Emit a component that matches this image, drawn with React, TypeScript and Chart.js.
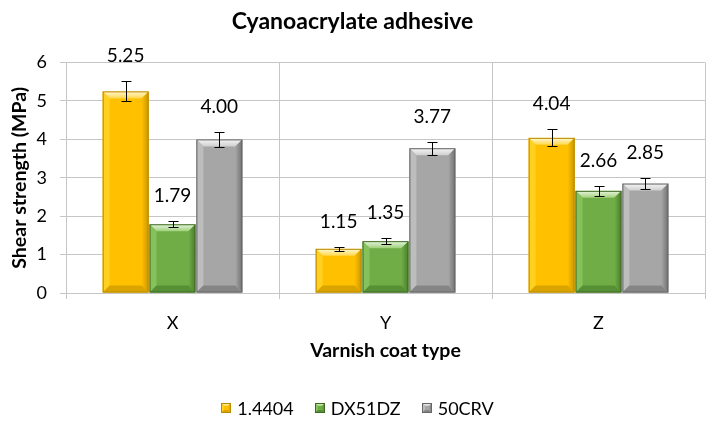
import React, { useEffect, useRef } from 'react';
import { Chart, registerables } from 'chart.js';

Chart.register(...registerables);

const chartTitle = 'Cyanoacrylate adhesive';
const xTitle = 'Varnish coat type';
const yTitle = 'Shear strength (MPa)';
const categories = ['X', 'Y', 'Z'];
const seriesNames = ['1.4404', 'DX51DZ', '50CRV'];
const values1 = [5.25, 1.15, 4.04];
const values2 = [1.79, 1.35, 2.66];
const values3 = [4.0, 3.77, 2.85];
const errors1 = [0.26, 0.06, 0.22];
const errors2 = [0.08, 0.07, 0.13];
const errors3 = [0.2, 0.17, 0.14];
const yMin = 0;
const yMax = 6;
const yStep = 1;

const seriesValues = [values1, values2, values3];
const seriesErrors = [errors1, errors2, errors3];

const FONT = 'Lato, "Open Sans", sans-serif';

const palettes = [
  { face: '#FFC000', hi: '#FFF8D8', top: '#FFD84A', left: '#FFD020', right: '#C99700', bottom: '#D9A400', line: '#B88A00' },
  { face: '#70AD47', hi: '#EAF6E0', top: '#9FD07A', left: '#86C25C', right: '#4A7D2C', bottom: '#578F35', line: '#3F6B25' },
  { face: '#A6A6A6', hi: '#F6F6F6', top: '#CFCFCF', left: '#BDBDBD', right: '#707070', bottom: '#858585', line: '#666666' },
];

function drawBevel(ctx: CanvasRenderingContext2D, left: number, top: number, right: number, bottom: number, p: any, sMax: number) {
  const w = right - left;
  const h = bottom - top;
  if (w <= 0 || h <= 0) return;
  const s = Math.min(sMax, h / 2, w / 2);
  ctx.save();
  ctx.fillStyle = p.face;
  ctx.fillRect(left, top, w, h);
  let g = ctx.createLinearGradient(0, top, 0, top + s);
  g.addColorStop(0, p.hi);
  g.addColorStop(1, p.top);
  ctx.fillStyle = g;
  ctx.beginPath();
  ctx.moveTo(left, top); ctx.lineTo(right, top); ctx.lineTo(right - s, top + s); ctx.lineTo(left + s, top + s); ctx.closePath();
  ctx.fill();
  ctx.fillStyle = p.left;
  ctx.beginPath();
  ctx.moveTo(left, top); ctx.lineTo(left + s, top + s); ctx.lineTo(left + s, bottom - s); ctx.lineTo(left, bottom); ctx.closePath();
  ctx.fill();
  g = ctx.createLinearGradient(right - s, 0, right, 0);
  g.addColorStop(0, p.face);
  g.addColorStop(1, p.right);
  ctx.fillStyle = g;
  ctx.beginPath();
  ctx.moveTo(right, top); ctx.lineTo(right, bottom); ctx.lineTo(right - s, bottom - s); ctx.lineTo(right - s, top + s); ctx.closePath();
  ctx.fill();
  ctx.fillStyle = p.bottom;
  ctx.beginPath();
  ctx.moveTo(left, bottom); ctx.lineTo(left + s, bottom - s); ctx.lineTo(right - s, bottom - s); ctx.lineTo(right, bottom); ctx.closePath();
  ctx.fill();
  ctx.strokeStyle = p.line;
  ctx.lineWidth = 1;
  ctx.strokeRect(left + 0.5, top + 0.5, w - 1, h - 1);
  ctx.restore();
}

const bevelPlugin = {
  id: 'bevelBars',
  afterDatasetsDraw(chart: any) {
    const ctx = chart.ctx;
    const yScale = chart.scales.y;
    chart.data.datasets.forEach((ds: any, di: number) => {
      const meta = chart.getDatasetMeta(di);
      meta.data.forEach((el: any, i: number) => {
        const { x, y, base, width } = el.getProps(['x', 'y', 'base', 'width'], true);
        drawBevel(ctx, x - width / 2, y, x + width / 2, base, palettes[di], 7);
        const v = seriesValues[di][i];
        const e = seriesErrors[di][i];
        const yt = Math.round(yScale.getPixelForValue(v + e)) + 0.5;
        const yb = Math.round(yScale.getPixelForValue(v - e)) + 0.5;
        const cx = Math.round(x) + 0.5;
        ctx.save();
        ctx.strokeStyle = '#000';
        ctx.lineWidth = 1;
        ctx.beginPath();
        ctx.moveTo(cx, yt); ctx.lineTo(cx, yb);
        ctx.moveTo(cx - 5, yt); ctx.lineTo(cx + 5, yt);
        ctx.moveTo(cx - 5, yb); ctx.lineTo(cx + 5, yb);
        ctx.stroke();
        ctx.fillStyle = '#000';
        ctx.font = `19px ${FONT}`;
        ctx.textAlign = 'center';
        ctx.textBaseline = 'middle';
        ctx.fillText(v.toFixed(2), x, yt - 26);
        ctx.restore();
      });
    });
  },
  afterDraw(chart: any) {
    const ctx = chart.ctx;
    ctx.save();
    ctx.font = `18px ${FONT}`;
    const box = 10, gap = 6, spacing = 21;
    const items = chart.data.datasets.map((d: any, i: number) => ({ label: d.label, w: ctx.measureText(d.label).width, p: palettes[i] }));
    const total = items.reduce((a: number, it: any) => a + box + gap + it.w, 0) + spacing * (items.length - 1);
    let x = (chart.width - total) / 2 - 2;
    const cy = 408;
    items.forEach((it: any) => {
      drawBevel(ctx, Math.round(x), cy - box / 2, Math.round(x) + box, cy + box / 2, it.p, 3);
      ctx.fillStyle = '#000';
      ctx.textAlign = 'left';
      ctx.textBaseline = 'middle';
      ctx.fillText(it.label, x + box + gap, cy + 1);
      x += box + gap + it.w + spacing;
    });
    ctx.restore();
  },
};

export default function App() {
  const ref = useRef<HTMLCanvasElement>(null);
  useEffect(() => {
    if (!ref.current) return;
    const gridColor = '#C6C6C6';
    const chart = new Chart(ref.current, {
      type: 'bar',
      data: {
        labels: categories,
        datasets: seriesNames.map((name, i) => ({
          label: name,
          data: seriesValues[i],
          backgroundColor: 'rgba(0,0,0,0)',
          borderWidth: 0,
          categoryPercentage: 0.66,
          barPercentage: 0.98,
        })),
      },
      options: {
        responsive: false,
        maintainAspectRatio: false,
        animation: false,
        devicePixelRatio: 1,
        layout: { padding: { left: 0, right: 14, top: 0, bottom: 59 } },
        plugins: {
          legend: { display: false },
          tooltip: { enabled: false },
          title: {
            display: true,
            text: chartTitle,
            color: '#000',
            font: { family: FONT, size: 23, weight: 'bold' },
            padding: { top: 8, bottom: 27 },
          },
        },
        scales: {
          x: {
            grid: { display: true, offset: true, color: gridColor, drawTicks: true, tickLength: 6 },
            border: { display: true, color: gridColor },
            ticks: { color: '#000', font: { family: FONT, size: 18 }, padding: 13 },
            title: { display: true, text: xTitle, color: '#000', font: { family: FONT, size: 19.5, weight: 'bold' }, padding: { top: 0, bottom: 8 } },
            afterFit: (s: any) => { s.height = 77; },
          },
          y: {
            min: yMin,
            max: yMax,
            ticks: { stepSize: yStep, color: '#000', font: { family: FONT, size: 18 }, padding: 13 },
            grid: { color: gridColor, drawTicks: true, tickLength: 6 },
            border: { display: true, color: gridColor },
            title: { display: true, text: yTitle, color: '#000', font: { family: FONT, size: 19.5, weight: 'bold' }, padding: { top: 8, bottom: 0 } },
            afterFit: (s: any) => { s.width = 66; },
          },
        },
      },
      plugins: [bevelPlugin],
    } as any);
    return () => chart.destroy();
  }, []);
  return (
    <div style={{ position: 'absolute', left: 0, top: 0, width: 719, height: 429, background: '#fff' }}>
      <canvas ref={ref} width={719} height={429} />
    </div>
  );
}
